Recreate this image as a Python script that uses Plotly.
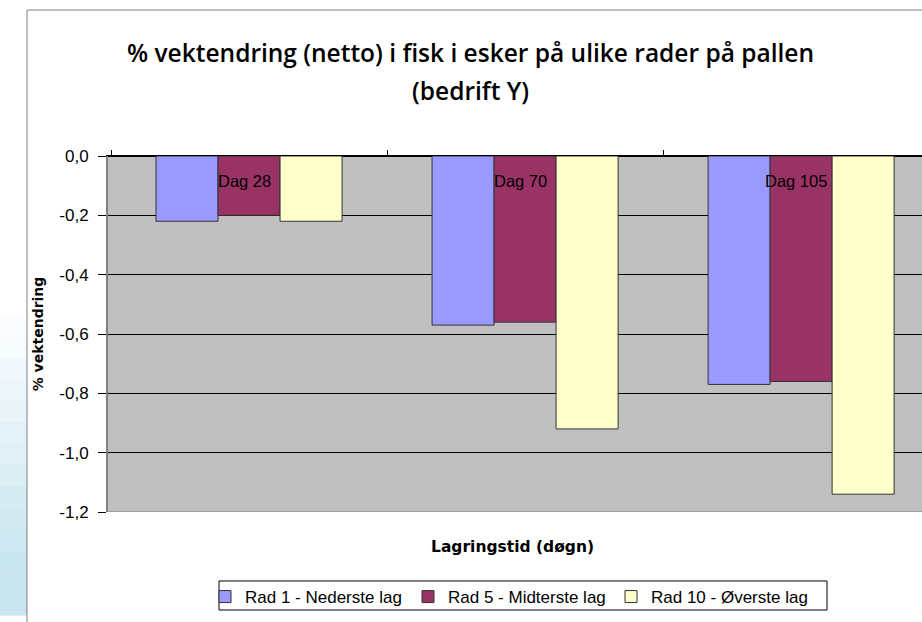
import plotly.graph_objects as go

categories = ["Dag 28", "Dag 70", "Dag 105"]
series_names = ["Rad 1 - Nederste lag", "Rad 5 - Midterste lag", "Rad 10 - Øverste lag"]
rad1 = [-0.22, -0.57, -0.77]
rad5 = [-0.20, -0.56, -0.76]
rad10 = [-0.22, -0.92, -1.14]
colors = ["#9999FF", "#993366", "#FFFFCC"]
y_ticks = [0.0, -0.2, -0.4, -0.6, -0.8, -1.0, -1.2]
y_tick_labels = ["0,0", "-0,2", "-0,4", "-0,6", "-0,8", "-1,0", "-1,2"]
title_lines = ["% vektendring (netto) i fisk i esker på ulike rader på pallen", "(bedrift Y)"]

FONT = "Liberation Sans, Arial, sans-serif"
BFONT = "DejaVu Sans, Liberation Sans, sans-serif"
TFONT = "Open Sans, Lato, sans-serif"

fig = go.Figure()
for name, vals, col in zip(series_names, [rad1, rad5, rad10], colors):
    fig.add_trace(go.Bar(
        x=categories, y=vals, name=name,
        marker=dict(color=col, line=dict(color="#333333", width=1)),
    ))

# left decorative strip (gradient approximation)
strip = []
n = 14
for i in range(n):
    y1 = 0.55 - i * 0.06
    strip.append(dict(type="rect", xref="paper", yref="paper",
                      x0=-0.1327, x1=-0.0995, y0=y1 - 0.061, y1=y1,
                      fillcolor="#bfe0ec", opacity=min(0.07 * (i + 1), 0.85),
                      line=dict(width=0), layer="below"))

shapes = strip + [
    dict(type="line", xref="paper", yref="paper", x0=-0.0995, x1=-0.0995,
         y0=1.41, y1=-0.31, line=dict(color="#808080", width=1)),
    dict(type="line", xref="paper", yref="paper", x0=-0.0995, x1=1.0,
         y0=1.41, y1=1.41, line=dict(color="#808080", width=1)),
    dict(type="line", xref="paper", yref="y", x0=0, x1=1, y0=-1.2, y1=-1.2,
         line=dict(color="#808080", width=1)),
    # legend frame
    dict(type="rect", xref="paper", yref="paper", x0=0.1364, x1=0.8833,
         y0=-0.2753, y1=-0.1938, line=dict(color="black", width=1),
         fillcolor="white", layer="below"),
]

annotations = [
    dict(text=title_lines[0], xref="paper", yref="paper",
         x=0.445, y=1.292, xanchor="center", yanchor="middle", showarrow=False,
         font=dict(family=TFONT, size=24.5, color="black", weight=600)),
    dict(text=title_lines[1], xref="paper", yref="paper",
         x=0.445, y=1.185, xanchor="center", yanchor="middle", showarrow=False,
         font=dict(family=TFONT, size=24.5, color="black", weight=600)),
    dict(text="<b>Lagringstid (døgn)</b>", xref="paper", yref="paper",
         x=0.4975, y=-0.0983, xanchor="center", yanchor="middle", showarrow=False,
         font=dict(family=BFONT, size=15.5, color="black")),
]
for c in categories:
    annotations.append(dict(text=c, x=c, y=0, xref="x", yref="y",
                            xanchor="center", yanchor="middle", yshift=-25, xshift=-5,
                            showarrow=False,
                            font=dict(family=FONT, size=16.5, color="black")))

fig.update_layout(
    width=922, height=622,
    margin=dict(l=108, r=0, t=156, b=110, autoexpand=False),
    paper_bgcolor="white",
    plot_bgcolor="#C0C0C0",
    barmode="group",
    bargap=0.326, bargroupgap=0,
    font=dict(family=FONT, size=13, color="black"),
    xaxis=dict(
        side="top", range=[-0.511, 2.438], automargin=False,
        tickson="boundaries", ticks="outside", ticklen=5, tickcolor="black",
        showticklabels=False,
        showline=True, linecolor="black", linewidth=1,
        showgrid=False,
    ),
    yaxis=dict(
        range=[-1.2, 0], tickvals=y_ticks, ticktext=y_tick_labels,
        automargin=False,
        ticks="outside", ticklen=8, tickcolor="black",
        ticklabelstandoff=6,
        tickfont=dict(family=FONT, size=17, color="black"),
        showgrid=True, gridcolor="black", gridwidth=1,
        zeroline=True, zerolinecolor="black", zerolinewidth=1,
        showline=True, linecolor="#808080", linewidth=2,
        title=dict(text="<b>% vektendring</b>", standoff=12,
                   font=dict(family=BFONT, size=14, color="black")),
    ),
    legend=dict(
        orientation="h", x=(205 - 108) / 814, xanchor="left", y=-0.2388, yanchor="middle",
        borderwidth=0, bgcolor="rgba(0,0,0,0)",
        font=dict(family=FONT, size=17, color="black"),
        traceorder="normal", entrywidth=158, entrywidthmode="pixels",
    ),
    annotations=annotations,
    shapes=shapes,
    showlegend=True,
)

fig.write_html("out.html", config={"displayModeBar": False},
               post_script="document.body.style.margin='0';document.body.style.padding='0';")
